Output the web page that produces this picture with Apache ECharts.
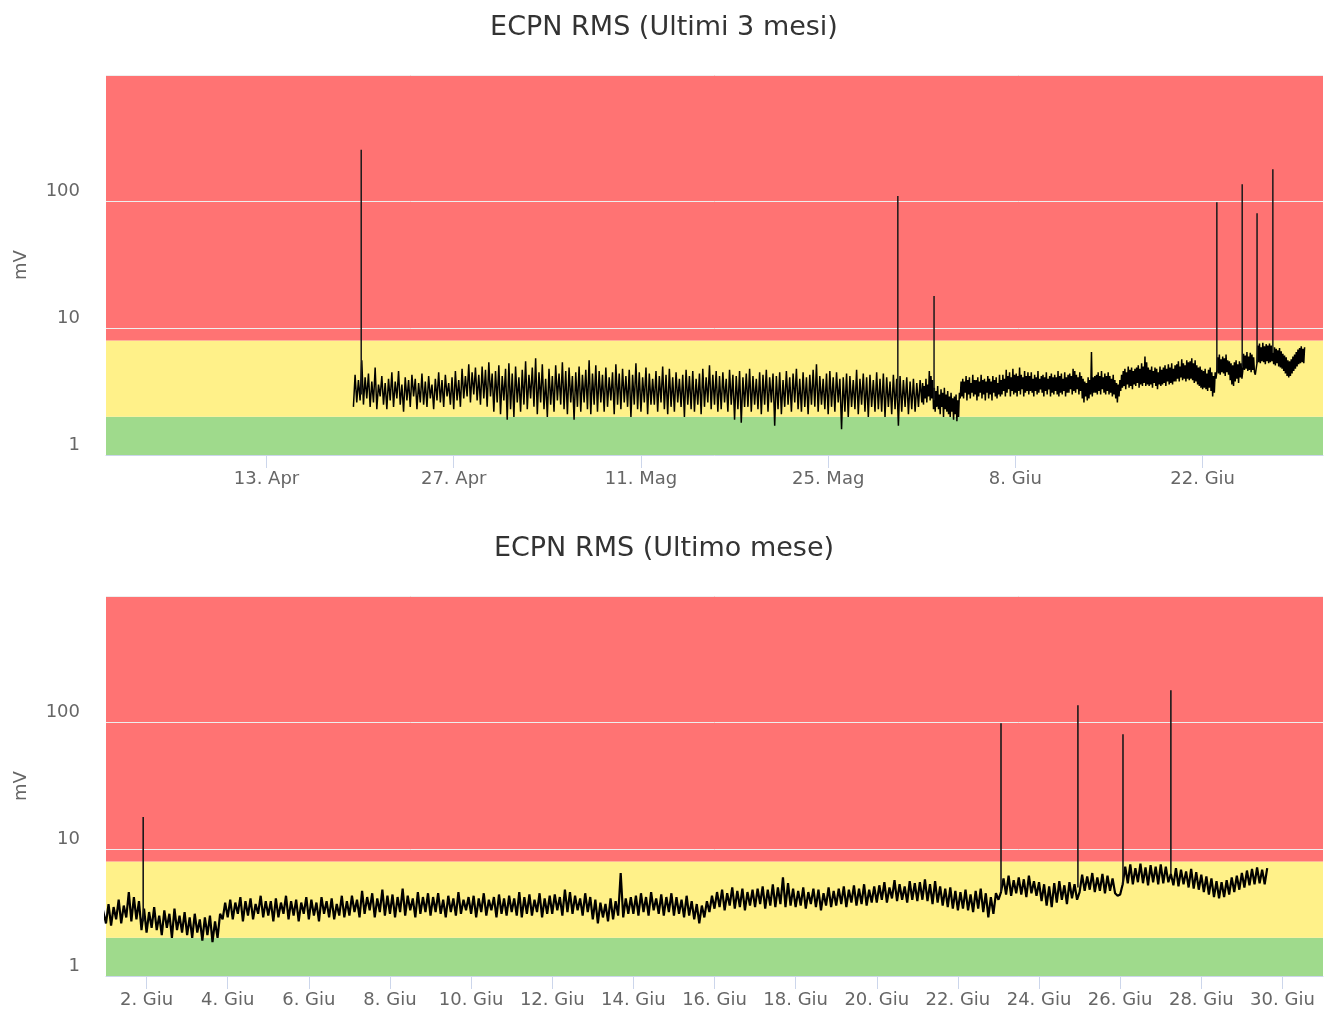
<!DOCTYPE html>
<html><head><meta charset="utf-8">
<script src="https://cdn.jsdelivr.net/npm/echarts@6/dist/echarts.min.js"></script>
<style>html,body{margin:0;padding:0;background:#fff}#c{width:1328px;height:1009px}</style>
</head><body><div id="c"></div>
<script>
// ---------------- data ----------------
const titles = ['ECPN RMS (Ultimi 3 mesi)', 'ECPN RMS (Ultimo mese)'];
const yAxisName = 'mV';
const bandLimits = [1, 2, 8, 1000]; // green 1-2, yellow 2-8, red 8-1000
const topRange = ['2019-04-01T00:00Z', '2019-07-01T00:00Z'];
const bottomRange = ['2019-06-01T00:00Z', '2019-07-01T00:00Z'];
const topTickDates = ['2019-04-13', '2019-04-27', '2019-05-11', '2019-05-25', '2019-06-08', '2019-06-22'];
const topTickLabels = ['13. Apr', '27. Apr', '11. Mag', '25. Mag', '8. Giu', '22. Giu'];
const bottomTickDates = ['2019-06-02', '2019-06-04', '2019-06-06', '2019-06-08', '2019-06-10', '2019-06-12', '2019-06-14', '2019-06-16', '2019-06-18', '2019-06-20', '2019-06-22', '2019-06-24', '2019-06-26', '2019-06-28', '2019-06-30'];
const bottomTickLabels = ['2. Giu', '4. Giu', '6. Giu', '8. Giu', '10. Giu', '12. Giu', '14. Giu', '16. Giu', '18. Giu', '20. Giu', '22. Giu', '24. Giu', '26. Giu', '28. Giu', '30. Giu'];
const yTickLabels = {1: '1', 10: '10', 100: '100'};

// 19 Apr 12:00 -> 31 May 21:00, one reading every 3 hours (8 per day)
const aprMayStart = '2019-04-19T12:00Z';
const aprMayStepHours = 3;
const aprMayValues = [
  2.4, 4.3, 2.6, 3.9,
  2.7, 5.6, 2.5, 4.1, 2.8, 4.4, 2.4, 3.8,
  2.6, 4.9, 2.3, 3.6, 2.9, 4.2, 2.5, 3.7,
  2.3, 4.0, 2.7, 4.5, 2.4, 3.8, 2.8, 4.6,
  2.5, 3.6, 2.2, 4.1, 2.7, 3.9, 2.4, 4.3,
  2.9, 4.0, 2.3, 3.7, 2.6, 4.4, 2.5, 3.8,
  2.4, 4.2, 2.8, 3.6, 2.3, 4.0, 2.7, 4.5,
  2.6, 3.9, 2.4, 4.3, 2.9, 3.7, 2.5, 4.1,
  2.3, 4.6, 2.7, 3.9, 2.4, 4.8, 2.8, 4.2,
  2.9, 5.2, 2.6, 4.5, 3.0, 4.9, 2.7, 4.3,
  2.5, 5.0, 2.8, 4.7, 2.4, 5.4, 2.9, 4.4,
  2.2, 4.6, 2.6, 5.1, 2.1, 4.2, 2.7, 4.8,
  1.9, 5.3, 2.3, 4.4, 2.0, 5.0, 2.6, 4.1,
  2.2, 4.7, 2.5, 5.5, 2.3, 4.3, 2.8, 4.9,
  2.4, 5.8, 2.1, 4.5, 2.6, 5.2, 2.3, 4.0,
  2.0, 4.8, 2.5, 4.2, 2.2, 5.1, 2.7, 4.4,
  2.5, 5.4, 2.3, 4.6, 2.1, 4.9, 2.6, 4.2,
  1.9, 4.5, 2.4, 5.0, 2.2, 4.3, 2.6, 4.7,
  2.3, 5.6, 2.1, 4.4, 2.5, 5.1, 2.2, 4.6,
  2.6, 4.3, 2.2, 4.9, 2.4, 4.1, 2.7, 4.5,
  2.1, 5.2, 2.5, 4.4, 2.3, 4.8, 2.6, 4.2,
  2.4, 4.7, 2.0, 4.3, 2.5, 5.3, 2.3, 4.5,
  2.2, 4.1, 2.6, 4.9, 2.1, 4.4, 2.5, 4.0,
  2.5, 4.6, 2.2, 4.2, 2.6, 5.0, 2.3, 4.3,
  2.1, 4.8, 2.4, 4.1, 2.2, 4.5, 2.6, 4.0,
  2.4, 4.3, 2.0, 4.7, 2.5, 4.2, 2.3, 4.6,
  2.2, 4.0, 2.5, 4.4, 2.1, 4.8, 2.4, 4.1,
  2.6, 5.1, 2.3, 4.3, 2.5, 4.6, 2.2, 4.2,
  2.3, 4.5, 2.6, 4.0, 2.2, 4.7, 2.5, 4.3,
  1.9, 4.2, 2.3, 4.6, 1.8, 4.1, 2.4, 4.4,
  2.4, 4.8, 2.2, 4.2, 2.5, 4.0, 2.3, 4.5,
  2.1, 4.3, 2.5, 4.7, 2.2, 4.1, 2.6, 4.4,
  1.7, 4.2, 2.3, 4.5, 2.1, 3.9, 2.4, 4.6,
  2.5, 4.1, 2.2, 4.4, 2.6, 4.8, 2.3, 4.0,
  2.2, 4.5, 2.4, 4.1, 2.1, 4.3, 2.5, 4.7,
  2.4, 5.2, 2.2, 4.2, 2.5, 4.0, 2.3, 4.4,
  2.1, 4.6, 2.4, 4.1, 2.2, 4.5, 2.6, 4.0,
  1.6, 4.1, 2.2, 4.4, 2.0, 4.2, 2.4, 3.9,
  2.3, 4.7, 2.1, 4.0, 2.5, 4.4, 2.2, 4.1,
  2.0, 4.3, 2.4, 3.9, 2.2, 4.5, 2.3, 4.0,
  2.2, 4.4, 2.0, 4.1, 2.4, 3.8, 2.1, 4.3,
  2.3, 4.0, 1.7, 4.2, 2.2, 3.9, 2.4, 4.1,
  2.1, 3.8, 2.3, 4.0, 2.2, 3.7, 2.4, 3.9
];

// 1 Jun 00:00 -> 29 Jun 15:00, one reading every 1.5 hours (16 per day)
const juneStart = '2019-06-01T00:00Z';
const juneStepHours = 1.5;
const juneValues = [
  2.6, 3.7, 2.5, 3.5, 2.8, 4.0, 2.6, 3.6, 2.9, 4.6, 2.7, 4.2, 2.8, 3.9, 2.3, 3.4,
  2.2, 3.2, 2.4, 3.5, 2.3, 3.0, 2.1, 3.3, 2.4, 3.1, 2.0, 3.4, 2.3, 3.0, 2.2, 3.2,
  2.1, 2.9, 2.0, 3.1, 2.2, 2.8, 1.9, 2.9, 2.1, 3.0, 1.85, 2.7, 2.0, 3.1, 2.8, 3.8,
  2.9, 4.0, 2.8, 3.8, 3.1, 4.2, 2.7, 3.9, 3.0, 4.1, 2.8, 3.7, 3.1, 4.3, 2.9, 3.9,
  3.0, 3.9, 2.7, 4.1, 2.9, 3.8, 3.1, 4.3, 2.8, 3.9, 3.0, 4.0, 2.7, 3.8, 3.1, 4.2,
  2.8, 4.0, 3.0, 3.8, 2.7, 4.2, 3.1, 3.9, 2.9, 4.1, 2.8, 3.7, 3.0, 4.3, 2.9, 3.9,
  3.0, 4.3, 3.2, 4.0, 2.9, 4.7, 3.1, 4.2, 3.3, 4.5, 2.9, 4.1, 3.2, 4.8, 3.0, 4.3,
  3.1, 4.4, 2.9, 4.2, 3.2, 4.9, 3.0, 4.3, 3.3, 4.1, 2.9, 4.6, 3.1, 4.2, 3.2, 4.5,
  3.0, 4.2, 3.2, 4.5, 3.1, 4.0, 2.9, 4.3, 3.2, 4.1, 3.0, 4.6, 3.1, 4.0, 3.3, 4.2,
  3.1, 4.3, 2.9, 4.1, 3.2, 4.5, 3.0, 4.0, 3.3, 4.2, 2.9, 4.4, 3.1, 4.1, 3.0, 4.3,
  3.2, 4.1, 3.0, 4.6, 2.9, 4.2, 3.1, 4.4, 3.0, 4.0, 3.2, 4.5, 2.9, 4.1, 3.1, 4.3,
  3.1, 4.4, 3.3, 4.2, 3.0, 4.8, 3.2, 4.6, 3.1, 4.3, 3.3, 4.1, 3.0, 4.5, 3.2, 4.2,
  2.8, 4.0, 2.6, 3.8, 2.9, 3.7, 2.7, 4.1, 2.8, 3.9, 3.0, 6.5, 2.9, 4.1, 3.1, 4.2,
  3.1, 4.3, 3.0, 4.5, 3.2, 4.2, 3.0, 4.6, 3.3, 4.1, 3.1, 4.4, 3.0, 4.2, 3.2, 4.5,
  3.0, 4.2, 3.1, 4.0, 2.9, 4.3, 3.0, 3.9, 2.8, 3.7, 2.6, 3.6, 2.9, 3.9, 3.2, 4.3,
  3.4, 4.6, 3.5, 4.8, 3.3, 4.5, 3.6, 5.0, 3.4, 4.7, 3.5, 4.9, 3.3, 4.6, 3.6, 4.8,
  3.5, 4.9, 3.7, 5.1, 3.4, 4.8, 3.6, 5.3, 3.5, 5.0, 3.7, 6.0, 3.5, 5.4, 3.6, 4.9,
  3.5, 4.7, 3.6, 5.0, 3.4, 4.6, 3.7, 4.9, 3.5, 4.8, 3.3, 4.5, 3.6, 5.0, 3.5, 4.7,
  3.6, 4.9, 3.7, 5.1, 3.5, 4.8, 3.8, 5.2, 3.6, 4.9, 3.7, 5.3, 3.6, 4.8, 3.8, 5.1,
  3.8, 5.2, 4.0, 5.5, 3.8, 5.0, 4.1, 5.7, 3.9, 5.3, 4.0, 5.1, 3.8, 5.6, 4.0, 5.4,
  3.9, 5.5, 4.0, 5.8, 3.9, 5.3, 3.7, 5.6, 3.8, 5.1, 3.6, 4.9, 3.5, 5.0, 3.4, 4.7,
  3.3, 4.6, 3.4, 4.8, 3.3, 4.4, 3.2, 4.7, 3.4, 4.9, 3.2, 4.5, 2.9, 4.2, 3.1, 4.5,
  4.0, 4.6, 5.9, 4.4, 6.2, 4.3, 5.7, 4.5, 6.0, 4.4, 5.8, 4.2, 6.2, 4.5, 5.6, 4.3,
  5.5, 3.9, 5.3, 3.6, 5.1, 3.5, 5.4, 3.8, 5.6, 4.0, 5.2, 3.7, 5.5, 4.1, 5.3, 4.0,
  4.6, 6.3, 4.7, 6.1, 4.8, 6.5, 4.6, 6.0, 4.7, 6.4, 4.5, 6.2, 4.7, 5.9, 4.5, 4.3,
  4.4, 5.3, 7.3, 5.4, 7.6, 5.3, 7.1, 5.5, 7.7, 5.4, 7.2, 5.2, 7.5, 5.5, 7.3, 5.3,
  7.6, 5.4, 7.3, 5.5, 6.4, 5.2, 7.1, 5.1, 6.9, 5.3, 6.7, 5.0, 7.0, 4.9, 6.6, 4.8,
  6.3, 4.6, 6.1, 4.4, 5.9, 4.2, 5.6, 4.1, 5.5, 4.2, 5.7, 4.4, 6.0, 4.6, 6.2, 4.8,
  6.5, 5.0, 6.8, 5.2, 7.0, 5.3, 7.2, 5.4, 6.9, 5.3, 7.1
];

// isolated peaks (time, value at the top, value at the foot)
const spikeTimes = ['2019-04-20T02:00Z', '2019-05-30T05:00Z', '2019-06-01T22:00Z', '2019-06-23T01:30Z', '2019-06-24T23:00Z', '2019-06-26T01:40Z', '2019-06-27T06:00Z'];
const spikeValues = [257, 111, 18, 99, 137, 81, 180];
const spikeBase = [3.0, 2.8, 2.7, 4.6, 5.0, 5.3, 6.4];

// ---------------- build ----------------
const H = 3600 * 1000;
function series(start, step, vals) {
  const t0 = Date.parse(start);
  return vals.map((v, i) => [t0 + i * step * H, v]);
}
const mainData = series(aprMayStart, aprMayStepHours, aprMayValues)
  .concat(series(juneStart, juneStepHours, juneValues));
const spikeData = [];
spikeTimes.forEach((t, i) => {
  const ts = Date.parse(t);
  spikeData.push([ts, spikeBase[i]], [ts, spikeValues[i]], [ts, '-']);
});
const toUTC = d => Date.parse(d + 'T00:00Z');
const ticksTop = topTickDates.map(toUTC);
const ticksBottom = bottomTickDates.map(toUTC);

const FONT = 'DejaVu Sans';
const GRIDS = [{left: 106, right: 5, top: 75, height: 380}, {left: 106, right: 5, top: 596, height: 380}];
const bandColors = ['#9fda8c', '#fff189', '#ff7373'];

function xAxisFor(idx, range, ticks, labels) {
  return {
    type: 'value', gridIndex: idx, z: 2,
    min: Date.parse(range[0]), max: Date.parse(range[1]),
    splitLine: {show: false},
    axisLine: {show: true, lineStyle: {color: '#ccd6eb'}},
    axisTick: {show: true, customValues: ticks, length: 13, lineStyle: {color: '#ccd6eb'}},
    axisLabel: {
      customValues: ticks, margin: 15, color: '#666', fontFamily: FONT, fontSize: 18,
      formatter: v => { const i = ticks.findIndex(t => Math.abs(t - v) < H); return i >= 0 ? labels[i] : ''; }
    }
  };
}
function yAxisFor(idx) {
  return {
    type: 'log', logBase: 10, gridIndex: idx, z: 2, min: 1, max: 1000,
    name: yAxisName, nameLocation: 'middle', nameGap: 76, nameRotate: 90,
    nameTextStyle: {color: '#666', fontFamily: FONT, fontSize: 18},
    axisLine: {show: false}, axisTick: {show: false},
    splitLine: {show: true, lineStyle: {color: '#eeeeee', width: 1}},
    axisLabel: {
      margin: 26, color: '#666', fontFamily: FONT, fontSize: 18, verticalAlign: 'bottom', padding: [0, 0, 1, 0],
      formatter: v => yTickLabels[Math.round(v)] || ''
    }
  };
}
function bandSeries(idx) {
  return {
    type: 'line', xAxisIndex: idx, yAxisIndex: idx, z: 1, silent: true,
    data: [], symbol: 'none',
    markArea: {
      silent: true,
      data: [0, 1, 2].map(k => [
        {yAxis: bandLimits[k], itemStyle: {color: bandColors[k], opacity: 1}},
        {yAxis: bandLimits[k + 1]}
      ])
    }
  };
}
function lineSeries(idx, data, w, color) {
  return {
    type: 'line', xAxisIndex: idx, yAxisIndex: idx, z: 3, data: data,
    symbol: 'none', showSymbol: false, connectNulls: false, animation: false,
    lineStyle: {color: color, width: w}, clip: true
  };
}

const titleStyle = {fontFamily: FONT, fontSize: 27, fontWeight: 'normal', color: '#333'};
const option = {
  animation: false,
  title: [
    {text: titles[0], left: 'center', top: 9, textStyle: titleStyle},
    {text: titles[1], left: 'center', top: 530, textStyle: titleStyle}
  ],
  grid: GRIDS,
  xAxis: [xAxisFor(0, topRange, ticksTop, topTickLabels), xAxisFor(1, bottomRange, ticksBottom, bottomTickLabels)],
  yAxis: [yAxisFor(0), yAxisFor(1)],
  series: [
    bandSeries(0), bandSeries(1),
    lineSeries(0, mainData, 1.5, '#000'), lineSeries(0, spikeData, 1.5, '#1a1a1a'),
    lineSeries(1, mainData, 2.2, '#000'), lineSeries(1, spikeData, 1.6, '#1a1a1a')
  ]
};
const chart = echarts.init(document.getElementById('c'), null, {renderer: 'canvas'});
chart.setOption(option);
</script></body></html>
